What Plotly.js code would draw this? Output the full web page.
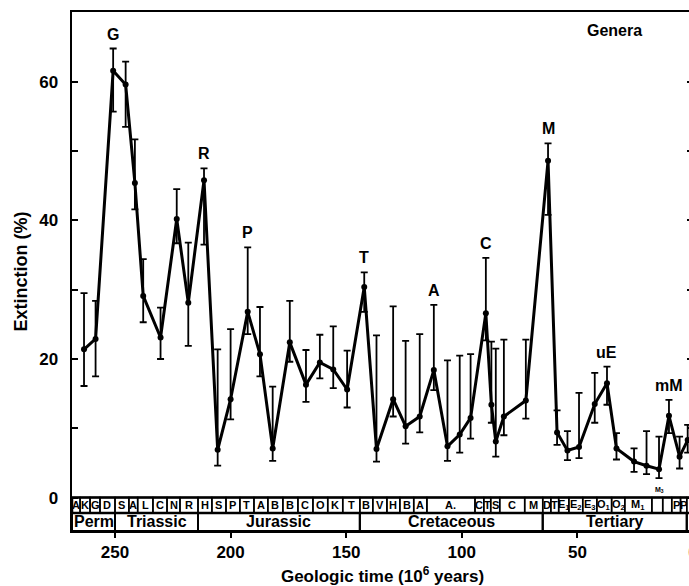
<!DOCTYPE html>
<html>
<head>
<meta charset="utf-8">
<script src="https://cdn.plot.ly/plotly-3.0.1.min.js"></script>
<style>
html,body{margin:0;padding:0;overflow:hidden;background:#fff}
#chart{width:700px;height:586px}
</style>
</head>
<body>
<div id="chart"></div>
<script>
// Geologic age (Myr) of each plotted point
const ages = [263.4, 258.4, 250.8, 245.4, 241.4, 237.8, 230.3, 223.3, 218.3, 211.5,
  205.6, 200.0, 192.6, 187.3, 181.8, 174.4, 167.4, 161.4, 155.6, 149.6,
  142.2, 136.9, 129.7, 124.3, 118.2, 112.1, 106.2, 100.9, 96.2, 89.6,
  87.2, 85.3, 81.8, 72.3, 62.7, 58.8, 54.3, 49.3, 42.5, 37.2,
  33.1, 25.5, 20.1, 14.7, 10.4, 5.8, 2.3];
// Percent extinction of genera
const extinction = [21.4, 22.9, 61.6, 59.6, 45.4, 29.1, 23.1, 40.2, 28.1, 45.8,
  6.9, 14.2, 26.8, 20.7, 7.1, 22.4, 16.3, 19.5, 18.5, 15.6,
  30.4, 7.0, 14.2, 10.3, 11.7, 18.4, 7.4, 9.1, 11.5, 26.6,
  13.4, 8.1, 11.7, 14.0, 48.6, 9.4, 6.8, 7.3, 13.5, 16.5,
  7.1, 5.2, 4.6, 4.1, 11.8, 5.9, 8.3];
// Upper and lower ends of the error bars
const upper = [29.5, 28.4, 64.8, 62.9, 51.7, 34.4, 27.4, 44.5, 36.8, 47.5,
  21.4, 24.3, 36.1, 27.5, 16.0, 28.4, 21.3, 23.5, 24.7, 21.2,
  32.5, 23.4, 27.6, 22.6, 23.6, 27.8, 19.8, 20.5, 20.7, 34.6,
  22.5, 21.5, 22.8, 22.8, 51.1, 12.6, 9.6, 15.1, 18.0, 18.9,
  9.3, 7.1, 9.6, 8.8, 14.1, 8.8, 10.5];
const lower = [16.1, 17.5, 55.7, 53.5, 41.6, 25.3, 20.0, 36.7, 21.9, 36.5,
  4.6, 11.3, 23.6, 17.5, 5.3, 19.6, 13.8, 17.2, 15.8, 13.0,
  26.8, 5.2, 11.7, 7.8, 9.4, 15.5, 5.3, 6.5, 8.5, 22.7,
  10.8, 5.9, 9.0, 11.4, 40.8, 7.6, 5.4, 5.7, 10.8, 13.4,
  5.5, 3.7, 3.4, 2.8, 9.3, 4.2, 6.5];

// Labelled extinction peaks
const peakNames = ['G', 'R', 'P', 'T', 'A', 'C', 'M', 'uE', 'mM'];
const peakAges = [250.8, 211.5, 192.6, 142.2, 112.1, 89.6, 62.7, 37.2, 10.4];

// Stage boxes (edges in Myr) and their labels
const stageEdges = [268.6, 265.1, 260.8, 256.5, 250.0, 244.0, 240.2, 233.6, 227.5, 221.9,
  214.1, 208.1, 202.0, 196.0, 189.9, 183.9, 177.4, 170.9, 164.4, 158.0,
  151.5, 144.1, 138.5, 132.4, 126.8, 120.8, 115.1, 94.3, 90.5, 87.5,
  83.6, 72.8, 65.0, 61.5, 58.1, 53.7, 47.7, 41.6, 35.2, 29.5,
  17.8, 13.1, 9.2, 5.4, 2.7, 0];
const stageNames = ['A', 'K', 'G', 'D', 'S', 'A', 'L', 'C', 'N', 'R',
  'H', 'S', 'P', 'T', 'A', 'B', 'B', 'C', 'O', 'K', 'T',
  'B', 'V', 'H', 'B', 'A', 'A.', 'C', 'T', 'S', 'C', 'M',
  'D', 'T', 'E<sub>1</sub>', 'E<sub>2</sub>', 'E<sub>3</sub>', 'O<sub>1</sub>', 'O<sub>2</sub>', 'M<sub>1</sub>', '', '', 'P', 'P', ''];

// Periods
const periodEdges = [268.6, 250.0, 214.1, 144.1, 65.0, 2.7, 0];
const periodNames = ['Perm', 'Triassic', 'Jurassic', 'Cretaceous', 'Tertiary', ''];

// Axis ticks
const xTickVals = [250, 200, 150, 100, 50, 0];
const xTickText = ['250', '200', '150', '100', '50', '0'];
const yTickVals = [0, 20, 40, 60];
const yTickText = ['0', '20', '40', '60'];

const FONT = 'Liberation Sans, Arial, Helvetica, sans-serif';
const STAGE_TOP = 0, STAGE_BOT = -2.22, PERIOD_BOT = -4.82;

const trace = {
  x: ages, y: extinction, type: 'scatter', mode: 'lines+markers',
  line: {color: '#000', width: 3},
  marker: {color: '#000', size: 6},
  error_y: {
    type: 'data', symmetric: false,
    array: upper.map((u, i) => u - extinction[i]),
    arrayminus: extinction.map((v, i) => v - lower[i]),
    color: '#000', thickness: 1.8, width: 3.5
  },
  cliponaxis: false, hoverinfo: 'x+y'
};

const shapes = [];
const annotations = [];

for (let i = 0; i < stageNames.length; i++) {
  shapes.push({type: 'rect', xref: 'x', yref: 'y', x0: stageEdges[i], x1: stageEdges[i + 1],
    y0: STAGE_BOT, y1: STAGE_TOP, line: {color: '#000', width: 1.5}, fillcolor: 'rgba(0,0,0,0)'});
  if (stageNames[i]) {
    annotations.push({xref: 'x', yref: 'y', x: (stageEdges[i] + stageEdges[i + 1]) / 2,
      y: (STAGE_TOP + STAGE_BOT) / 2, text: stageNames[i], showarrow: false,
      font: {family: FONT, size: 11, color: '#000', weight: 'bold'}});
  }
}
for (let i = 0; i < periodNames.length; i++) {
  shapes.push({type: 'rect', xref: 'x', yref: 'y', x0: periodEdges[i], x1: periodEdges[i + 1],
    y0: PERIOD_BOT, y1: STAGE_BOT, line: {color: '#000', width: 2}, fillcolor: 'rgba(0,0,0,0)'});
  if (periodNames[i]) {
    annotations.push({xref: 'x', yref: 'y', x: (periodEdges[i] + periodEdges[i + 1]) / 2,
      y: (STAGE_BOT + PERIOD_BOT) / 2, text: periodNames[i], showarrow: false,
      font: {family: FONT, size: 16, color: '#000', weight: 'bold'}});
  }
}
// outer frame of the stage strip
shapes.push({type: 'rect', xref: 'x', yref: 'y', x0: stageEdges[0], x1: 0,
  y0: STAGE_BOT, y1: STAGE_TOP, line: {color: '#000', width: 2.5}, fillcolor: 'rgba(0,0,0,0)'});

peakNames.forEach((name, k) => {
  const idx = ages.indexOf(peakAges[k]);
  annotations.push({xref: 'x', yref: 'y', x: ages[idx], y: upper[idx], text: name,
    showarrow: false, xanchor: 'center', yanchor: 'bottom', yshift: 4,
    font: {family: FONT, size: 16, color: '#000', weight: 'bold'}});
});

annotations.push({xref: 'x', yref: 'y', x: 14.7, y: 0.3, yanchor: 'bottom', text: 'M<sub>3</sub>',
  showarrow: false, font: {family: FONT, size: 7, color: '#000', weight: 'bold'}});

annotations.push({xref: 'paper', yref: 'paper', x: 0.874, y: 0.965, xanchor: 'center', yanchor: 'middle',
  text: 'Genera', showarrow: false, font: {family: FONT, size: 16, color: '#000', weight: 'bold'}});

const layout = {
  width: 700, height: 586,
  margin: {l: 72, r: 7, t: 12, b: 55},
  paper_bgcolor: '#fff', plot_bgcolor: '#fff',
  showlegend: false,
  xaxis: {
    range: [268.6, 0], tickvals: xTickVals, ticktext: xTickText,
    ticks: 'outside', ticklen: 5, tickwidth: 2, tickcolor: '#000',
    showline: true, linewidth: 2, linecolor: '#000', mirror: true,
    showgrid: false, zeroline: false,
    tickfont: {family: FONT, size: 17, color: '#000', weight: 'bold'},
    title: {text: 'Geologic time (10<sup>6</sup> years)', standoff: 14,
      font: {family: FONT, size: 17, color: '#000', weight: 'bold'}}
  },
  yaxis: {
    range: [PERIOD_BOT, 70.07], tickvals: yTickVals, ticktext: yTickText,
    ticks: 'inside', ticklen: 6, tickwidth: 2, tickcolor: '#000',
    minor: {dtick: 10, ticks: 'inside', ticklen: 6, tickwidth: 2, tickcolor: '#000', showgrid: false},
    showline: true, linewidth: 2.5, linecolor: '#000', mirror: 'ticks',
    showgrid: false, zeroline: false, ticklabelstandoff: 8,
    tickfont: {family: FONT, size: 17, color: '#000', weight: 'bold'},
    title: {text: 'Extinction (%)', standoff: 7,
      font: {family: FONT, size: 18, color: '#000', weight: 'bold'}}
  },
  shapes: shapes,
  annotations: annotations
};

Plotly.newPlot('chart', [trace], layout, {displayModeBar: false, staticPlot: true});
</script>
</body>
</html>
